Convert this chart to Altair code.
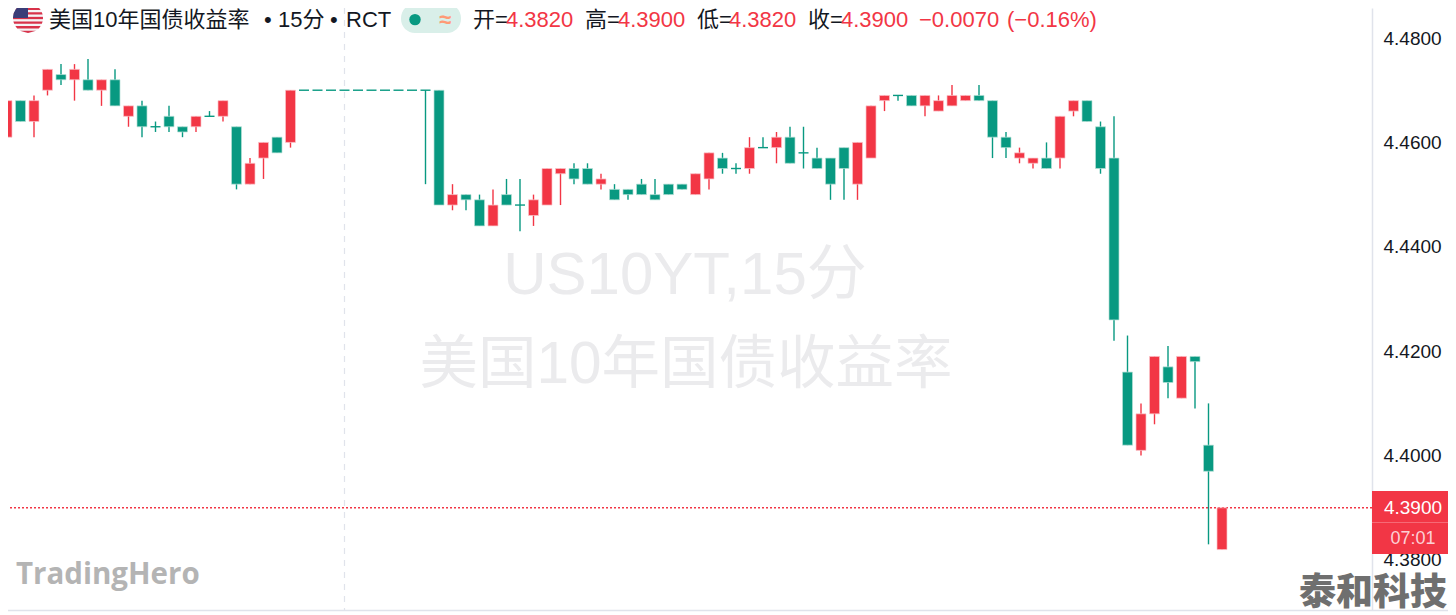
import math
import altair as alt
import pandas as pd

RED = "#F23645"
GREEN = "#089981"

opens = [4.461, 4.468, 4.464, 4.470, 4.473, 4.472, 4.472, 4.470, 4.472, 4.465,
         4.467, 4.463, 4.465, 4.463, 4.463, 4.465, 4.465, 4.463, 4.452, 4.457,
         4.461, 4.460] + [4.470] * 9 + [4.470, 4.470, 4.448, 4.450, 4.449, 4.444, 4.450, 4.448, 4.446,
         4.448, 4.454, 4.455, 4.455, 4.452, 4.451, 4.451, 4.452, 4.450, 4.452,
         4.452, 4.450, 4.453, 4.457, 4.455, 4.455, 4.459, 4.459, 4.461, 4.458,
         4.457, 4.457, 4.459, 4.452, 4.457, 4.468, 4.469, 4.469, 4.467, 4.466,
         4.467, 4.468, 4.469, 4.468, 4.461, 4.457, 4.456, 4.457, 4.457, 4.466,
         4.468, 4.463, 4.457, 4.416, 4.401, 4.408, 4.417, 4.411, 4.419, 4.402, 4.382]
highs = [4.469, 4.468, 4.469, 4.474, 4.475, 4.475, 4.476, 4.472, 4.474, 4.467,
         4.468, 4.464, 4.467, 4.463, 4.465, 4.466, 4.468, 4.463, 4.457, 4.460,
         4.461, 4.470] + [4.470] * 9 + [4.470, 4.470, 4.452, 4.450, 4.450, 4.451, 4.453, 4.453, 4.450,
         4.455, 4.455, 4.456, 4.456, 4.454, 4.452, 4.451, 4.453, 4.453, 4.452,
         4.452, 4.454, 4.458, 4.458, 4.456, 4.461, 4.461, 4.462, 4.463, 4.463,
         4.459, 4.457, 4.459, 4.460, 4.467, 4.469, 4.469, 4.469, 4.469, 4.469,
         4.471, 4.469, 4.471, 4.468, 4.462, 4.459, 4.457, 4.460, 4.465, 4.468,
         4.468, 4.464, 4.465, 4.423, 4.410, 4.419, 4.421, 4.419, 4.419, 4.410, 4.390]
lows = [4.454, 4.464, 4.461, 4.469, 4.471, 4.468, 4.470, 4.467, 4.467, 4.463,
        4.461, 4.462, 4.462, 4.461, 4.462, 4.465, 4.464, 4.451, 4.452, 4.453,
        4.458, 4.459] + [4.470] * 9 + [4.452, 4.448, 4.447, 4.447, 4.444, 4.444, 4.448, 4.443, 4.444,
        4.448, 4.448, 4.452, 4.452, 4.451, 4.449, 4.449, 4.450, 4.449, 4.450,
        4.451, 4.450, 4.451, 4.454, 4.454, 4.454, 4.459, 4.456, 4.456, 4.455,
        4.455, 4.449, 4.449, 4.449, 4.457, 4.466, 4.468, 4.467, 4.465, 4.466,
        4.467, 4.468, 4.468, 4.457, 4.457, 4.456, 4.455, 4.455, 4.455, 4.465,
        4.464, 4.454, 4.422, 4.402, 4.400, 4.406, 4.411, 4.411, 4.409, 4.383, 4.382]
closes = [4.468, 4.464, 4.468, 4.474, 4.472, 4.474, 4.470, 4.472, 4.467, 4.467,
          4.463, 4.463, 4.463, 4.462, 4.465, 4.465, 4.468, 4.452, 4.456, 4.460,
          4.458, 4.470] + [4.470] * 9 + [4.470, 4.448, 4.450, 4.449, 4.444, 4.448, 4.448, 4.448, 4.449,
          4.455, 4.455, 4.453, 4.452, 4.453, 4.449, 4.450, 4.450, 4.449, 4.450,
          4.451, 4.454, 4.458, 4.455, 4.455, 4.459, 4.459, 4.461, 4.456, 4.458,
          4.455, 4.452, 4.455, 4.460, 4.467, 4.469, 4.469, 4.467, 4.469, 4.468,
          4.469, 4.469, 4.468, 4.461, 4.459, 4.458, 4.457, 4.455, 4.465, 4.468,
          4.464, 4.455, 4.426, 4.402, 4.408, 4.419, 4.414, 4.419, 4.418, 4.397, 4.390]
y_ticks = [4.38, 4.40, 4.42, 4.44, 4.46, 4.48]
last_price = 4.39
crosshair_bar = 25

df = pd.DataFrame({"i": range(len(opens)), "o": opens, "h": highs, "l": lows, "c": closes})
df["dir"] = ["up" if c > o else "down" for o, c in zip(opens, closes)]

W, H = 1364, 602
x_scale = alt.Scale(domain=[(8 - 7) / 13.5, (1372 - 7) / 13.5], nice=False, zero=False, padding=0)
y_scale = alt.Scale(domain=[4.37042, 4.48575], nice=False, zero=False, padding=0)
color = alt.Color("dir:N", scale=alt.Scale(domain=["up", "down"], range=[RED, GREEN]), legend=None)
fringe = alt.Stroke("dir:N", scale=alt.Scale(domain=["up", "down"], range=["#fbc4ca", "#b5e0d6"]), legend=None)
X = alt.X("i:Q", scale=x_scale, axis=None)
Y_AX = alt.Axis(values=y_ticks, format=".4f", orient="right", title=None, grid=False, ticks=False,
                labelPadding=11, labelFontSize=19, labelFont="Liberation Sans", labelColor="#131722",
                domainColor="#e0e3eb", domainWidth=1.5, labelOverlap=False, labelFlush=False)
UI = "Liberation Sans, Noto Sans CJK SC"


def px(v):
    return v - 8


def label(text, x, y, size=22, color="#131722", font=UI, weight="normal", align="left", opacity=1):
    return alt.Chart(pd.DataFrame({"t": [text]})).mark_text(
        align=align, baseline="middle", fontSize=size, font=font, fontWeight=weight, color=color, opacity=opacity
    ).encode(x=alt.value(px(x)), y=alt.value(px(y)), text="t:N")


def box(x1, x2, y1, y2, fill, radius=0):
    return alt.Chart(pd.DataFrame({"a": [0]})).mark_rect(color=fill, cornerRadius=radius).encode(
        x=alt.value(px(x1)), x2=alt.value(px(x2)), y=alt.value(px(y1)), y2=alt.value(px(y2)))


def glyph(path, x, y, size, fill):
    return alt.Chart(pd.DataFrame({"a": [0]})).mark_point(
        shape=path, size=size, filled=True, color=fill, opacity=1, strokeWidth=0
    ).encode(x=alt.value(px(x)), y=alt.value(px(y)))


def stripe(k):
    y1, y2 = -1 + 2 * k / 13, -1 + 2 * (k + 1) / 13
    a, b = math.sqrt(max(0, 1 - y1 * y1)), math.sqrt(max(0, 1 - y2 * y2))
    return f"M{-a:.3f},{y1:.3f}L{a:.3f},{y1:.3f}L{b:.3f},{y2:.3f}L{-b:.3f},{y2:.3f}Z"


water = [
    label("US10YT,15分", 685, 276, size=60, color="#ebebed", align="center"),
    label("美国10年国债收益率", 686, 365, size=58.5, color="#ebebed", align="center"),
    label("TradingHero", 16, 575, size=29.5, color="#b4b4b4", font="Open Sans", weight="bold"),
]

crosshair = alt.Chart(pd.DataFrame({"i": [crosshair_bar]})).mark_rule(
    color="#e0e3eb", strokeWidth=1.2, strokeDash=[6, 6]).encode(x=alt.X("i:Q", scale=x_scale, axis=None))

wicks = alt.Chart(df).mark_rule(strokeWidth=1.4).encode(
    x=X, y=alt.Y("h:Q", scale=y_scale, axis=Y_AX), y2="l:Q", color=color)
bodies = alt.Chart(df[df.o != df.c]).mark_bar(size=10, strokeWidth=0.7).encode(
    x=X, y=alt.Y("o:Q", scale=y_scale, axis=Y_AX), y2="c:Q", color=color, stroke=fringe)
dojis = alt.Chart(df[df.o == df.c]).mark_tick(size=10, thickness=1.4, orient="horizontal", opacity=1).encode(
    x=X, y=alt.Y("o:Q", scale=y_scale, axis=Y_AX), color=color)

price_line = alt.Chart(pd.DataFrame({"p": [last_price]})).mark_rule(
    color=RED, strokeWidth=1.5, strokeDash=[2, 2]).encode(y=alt.Y("p:Q", scale=y_scale, axis=Y_AX))

bottom = alt.Chart(pd.DataFrame({"a": [0]})).mark_rule(color="#e0e3eb", strokeWidth=1.5).encode(
    x=alt.value(-8), x2=alt.value(1448), y=alt.value(px(610.5)))

tag = [
    box(1372, 1454, 491, 554, RED),
    box(1372, 1454, 522, 522.8, "#f77c87"),
    label("4.3900", 1413, 508, size=19, color="#ffffff", align="center"),
    label("07:01", 1413, 539, size=18, color="#fcd0d5", align="center"),
]

flag = [glyph("M1,0A1,1 0 1 1 -1,0A1,1 0 1 1 1,0Z", 28, 18, 900, "#f4f4f6")]
flag += [glyph(stripe(k), 28, 18, 900, "#d8324a") for k in range(0, 13, 2)]
flag += [glyph("M0,-1A1,1 0 0 0 -1,0L0,0Z", 28, 18, 900, "#3a3d78")]

legend = [
    label("美国10年国债收益率", 49, 20),
    label("•", 264, 20),
    label("15分", 278, 20),
    label("•", 330, 20),
    label("RCT", 346, 20),
    box(401, 461, 4, 33, "#d9efe9", radius=14),
    glyph("circle", 415, 19.6, 130, GREEN),
    label("≈", 445, 20, size=22, color="#ff9a76", align="center", weight="bold"),
    label("开=", 473, 20), label("4.3820", 506, 20, color=RED),
    label("高=", 585, 20), label("4.3900", 618, 20, color=RED),
    label("低=", 697, 20), label("4.3820", 729, 20, color=RED),
    label("收=", 808, 20), label("4.3900", 841, 20, color=RED),
    label("−0.0070", 919, 20, color=RED), label("(−0.16%)", 1007, 20, color=RED),
]

stamp = label("泰和科技", 1299, 594, size=37, color="#6f6f6f", font="Noto Sans CJK SC", weight=900)

chart = alt.layer(
    *water, crosshair, price_line, wicks, bodies, dojis, bottom, *tag, *flag, *legend, stamp
).resolve_scale(color="independent", stroke="independent").properties(
    width=W, height=H,
    autosize=alt.AutoSizeParams(type="none"),
    padding={"left": 0, "top": 0, "right": 76, "bottom": 5},
    background="white",
).configure_view(stroke=None)

chart.save("out.html", embed_options={"renderer": "svg", "actions": False})
